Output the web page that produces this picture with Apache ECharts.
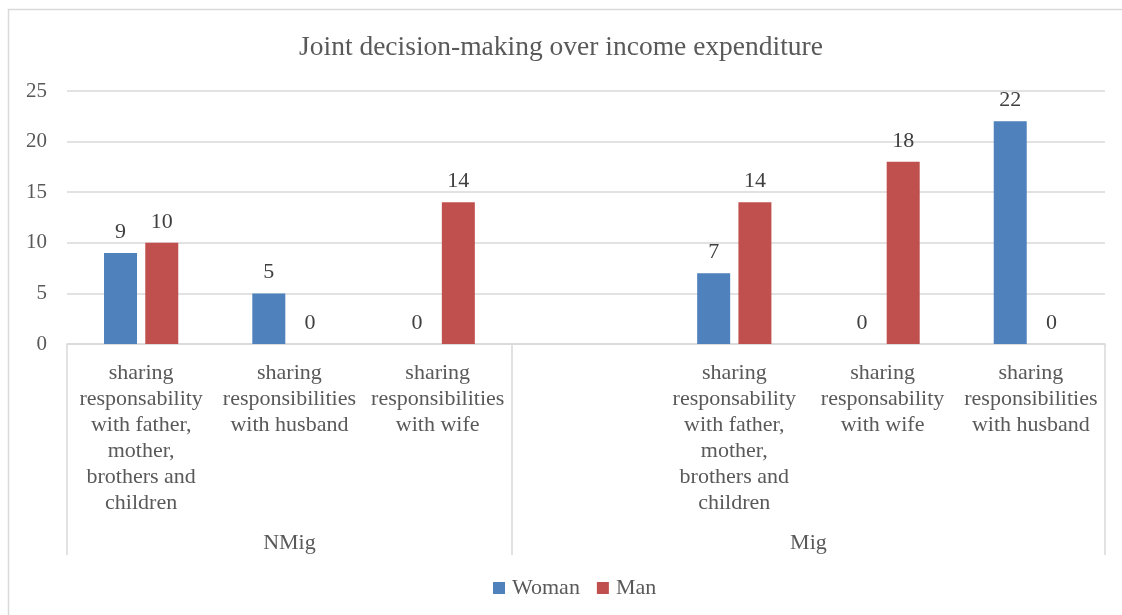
<!DOCTYPE html>
<html>
<head>
<meta charset="utf-8">
<title>Joint decision-making over income expenditure</title>
<script src="https://cdn.jsdelivr.net/npm/echarts@6/dist/echarts.min.js"></script>
<style>
  html, body { margin: 0; padding: 0; background: #ffffff; overflow: hidden; }
  #chart { width: 1122px; height: 615px; }
</style>
</head>
<body>
<div id="chart"></div>
<script>
// Categories: three NMig answers, an empty spacer slot, then three Mig answers
const categories = [
  'sharing\nresponsability\nwith father,\nmother,\nbrothers and\nchildren',
  'sharing\nresponsibilities\nwith husband',
  'sharing\nresponsibilities\nwith wife',
  '',
  'sharing\nresponsability\nwith father,\nmother,\nbrothers and\nchildren',
  'sharing\nresponsability\nwith wife',
  'sharing\nresponsibilities\nwith husband'
];

// Group labels and the category span each one covers (start index, end index)
const groups = ['NMig', 'Mig'];
const groupSpans = [[0, 3], [3, 7]];

const womanValues = [9, 5, 0, null, 7, 0, 22];
const manValues = [10, 0, 14, null, 14, 18, 0];

const yTicks = [0, 5, 10, 15, 20, 25];

const FONT = '"Liberation Serif", "Times New Roman", serif';
const TEXT = '#595959';
const LINE = '#d9d9d9';

// Group label positions (centre of each span) and boundary positions on a 0..N scale
const groupCenters = groupSpans.map(s => (s[0] + s[1]) / 2);
const groupBounds = [0].concat(groupSpans.map(s => s[1]));

const chart = echarts.init(document.getElementById('chart'), null, { renderer: 'canvas' });

const barLabel = {
  show: true,
  position: 'top',
  distance: 10,
  color: '#404040',
  fontFamily: FONT,
  fontSize: 22
};

chart.setOption({
  animation: false,
  backgroundColor: '#ffffff',
  graphic: [{
    type: 'rect',
    silent: true,
    shape: { x: 8.5, y: 9.5, width: 3000, height: 3000 },
    style: { fill: 'none', stroke: LINE, lineWidth: 1.5 }
  }],
  title: {
    text: 'Joint decision-making over income expenditure',
    left: 'center',
    top: 29,
    textStyle: { fontFamily: FONT, fontSize: 27.5, fontWeight: 'normal', color: TEXT }
  },
  legend: {
    data: ['Woman', 'Man'],
    left: 488,
    top: 572,
    icon: 'rect',
    itemWidth: 12,
    itemHeight: 12,
    itemGap: 17,
    textStyle: { fontFamily: FONT, fontSize: 22, color: TEXT, padding: [0, 0, 0, 2] }
  },
  grid: { left: 67, right: 17, top: 91, bottom: 271, containLabel: false },
  xAxis: [{
    type: 'category',
    data: categories,
    axisLine: { show: true, lineStyle: { color: LINE, width: 1.5 } },
    axisTick: { show: false },
    axisLabel: {
      interval: 0,
      margin: 16,
      fontFamily: FONT,
      fontSize: 22,
      lineHeight: 26,
      color: TEXT,
      align: 'center'
    }
  }, {
    // Second level: group names and the boxes between groups
    type: 'value',
    position: 'bottom',
    min: 0,
    max: categories.length,
    interval: 0.5,
    axisLine: { show: false },
    splitLine: { show: false },
    axisTick: {
      show: true,
      customValues: groupBounds,
      length: 211,
      lineStyle: { color: LINE, width: 1.5 }
    },
    axisLabel: {
      customValues: groupCenters,
      margin: 188,
      fontFamily: FONT,
      fontSize: 22,
      color: TEXT,
      formatter: function (v) {
        const i = groupCenters.indexOf(v);
        return i >= 0 ? groups[i] : '';
      }
    }
  }],
  yAxis: {
    type: 'value',
    min: yTicks[0],
    max: yTicks[yTicks.length - 1],
    interval: 5,
    axisLine: { show: false },
    axisTick: { show: false },
    splitLine: { lineStyle: { color: LINE, width: 1.5 } },
    axisLabel: { margin: 20, fontFamily: FONT, fontSize: 21, color: TEXT }
  },
  series: [{
    name: 'Woman',
    type: 'bar',
    data: womanValues,
    barWidth: 33,
    barGap: '25%',
    itemStyle: { color: '#4F81BD' },
    label: barLabel
  }, {
    name: 'Man',
    type: 'bar',
    data: manValues,
    barWidth: 33,
    itemStyle: { color: '#C0504D' },
    label: barLabel
  }]
});
</script>
</body>
</html>
